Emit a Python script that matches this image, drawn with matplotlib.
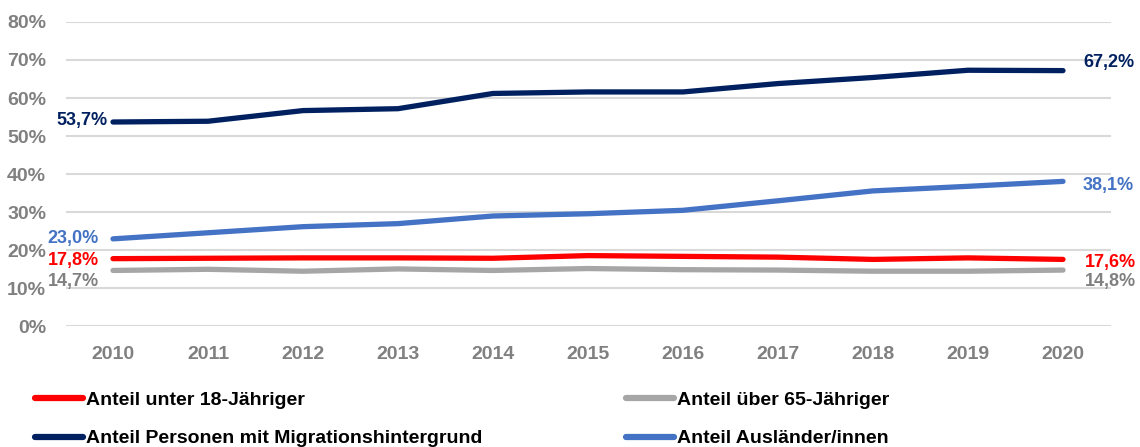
import matplotlib.pyplot as plt
from matplotlib.lines import Line2D

plt.rcParams['font.family'] = ['Liberation Sans', 'DejaVu Sans']

# ------------------------------------------
# DATA
# ------------------------------------------
years = ["2010", "2011", "2012", "2013", "2014", "2015",
         "2016", "2017", "2018", "2019", "2020"]

unter_18 = [17.8, 17.9, 18.0, 18.0, 17.9, 18.6, 18.4, 18.2, 17.6, 18.0, 17.6]
ueber_65 = [14.7, 15.0, 14.5, 15.1, 14.7, 15.2, 14.9, 14.8, 14.5, 14.5, 14.8]
migration = [53.7, 53.9, 56.7, 57.2, 61.2, 61.6, 61.6, 63.8, 65.4, 67.3, 67.2]
auslaender = [23.0, 24.6, 26.2, 27.0, 29.0, 29.6, 30.5, 33.0, 35.6, 36.8, 38.1]

names = ["Anteil unter 18-Jähriger", "Anteil über 65-Jähriger",
         "Anteil Personen mit Migrationshintergrund", "Anteil Ausländer/innen"]

yticks = [0, 10, 20, 30, 40, 50, 60, 70, 80]

RED = "#FF0000"
GRAY = "#A6A6A6"
NAVY = "#002060"
BLUE = "#4472C4"
TXT_GRAY = "#808080"

# ------------------------------------------
# PLOT
# ------------------------------------------
fig = plt.figure(figsize=(11.4, 4.47), dpi=100)
ax = fig.add_axes([65.5 / 1140, 0.2698, 1045 / 1140, 0.951 - 0.2698])

x = list(range(len(years)))
series = [(unter_18, RED), (ueber_65, GRAY), (migration, NAVY), (auslaender, BLUE)]
for vals, col in series:
    ax.plot(x, vals, color=col, lw=3.8, solid_capstyle="round", zorder=3)

ax.set_xlim(-0.5, len(years) - 0.5)
ax.set_ylim(0, 80)
ax.set_yticks(yticks)
ax.set_yticklabels([f"{t}%" for t in yticks])
ax.set_xticks(x)
ax.set_xticklabels(years)
ax.tick_params(length=0, labelsize=14, labelcolor=TXT_GRAY)
for lab in ax.get_xticklabels() + ax.get_yticklabels():
    lab.set_fontweight("bold")
ax.tick_params(axis="y", pad=14)
ax.tick_params(axis="x", pad=14)
ax.grid(axis="y", color="#D9D9D9", lw=1.5)
ax.set_axisbelow(True)
for s in ax.spines.values():
    s.set_visible(False)

# data labels (first and last point)
def lab(v, i, col, dx, dy, ha):
    ax.annotate(f"{v:.1f}%".replace(".", ","), (i, v), xytext=(dx, dy),
                textcoords="offset pixels", ha=ha, va="center",
                color=col, fontsize=13, fontweight="bold")

last = len(years) - 1
lab(migration[0], 0, NAVY, -5, 2, "right")
lab(auslaender[0], 0, BLUE, -14, 0, "right")
lab(unter_18[0], 0, RED, -14, -2, "right")
lab(ueber_65[0], 0, TXT_GRAY, -14, -11, "right")
lab(migration[last], last, NAVY, 20, 8, "left")
lab(auslaender[last], last, BLUE, 20, -4, "left")
lab(unter_18[last], last, RED, 22, -3, "left")
lab(ueber_65[last], last, TXT_GRAY, 22, -11, "left")

# legend
handles = [Line2D([], [], color=c, lw=4.5, solid_capstyle="round") for c in [RED, NAVY, GRAY, BLUE]]
labels = [names[0], names[2], names[1], names[3]]
fig.legend(handles, labels, ncol=2, loc="lower left", bbox_to_anchor=(0.0156, -0.04),
           frameon=False, handlelength=2.45, handletextpad=0.15, columnspacing=7.4,
           labelspacing=1.06, prop={"weight": "bold", "size": 14})

fig.savefig("out.png", dpi=100)
plt.close()
